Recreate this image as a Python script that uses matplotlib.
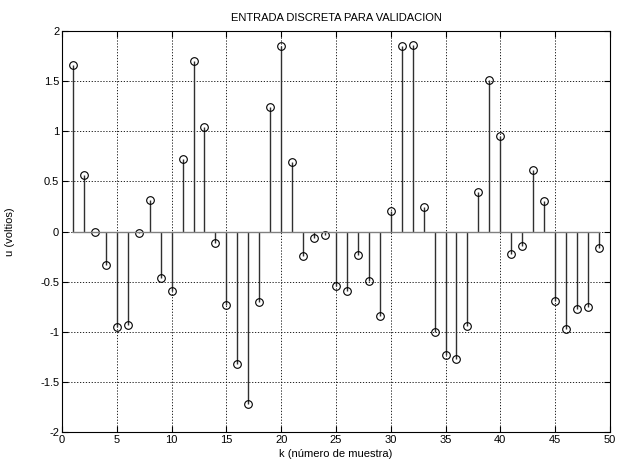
import numpy as np
import matplotlib
matplotlib.use("Agg")
import matplotlib.pyplot as plt

plt.rcParams['font.family'] = ['Liberation Sans', 'DejaVu Sans']

# muestras k y entrada u(k)
k = list(range(1, 50))
u = [1.66, 0.56, 0.00, -0.33, -0.95, -0.93, -0.01, 0.31, -0.46, -0.59,
     0.72, 1.70, 1.04, -0.11, -0.73, -1.32, -1.72, -0.70, 1.24, 1.85,
     0.69, -0.24, -0.06, -0.03, -0.54, -0.59, -0.23, -0.49, -0.84, 0.20,
     1.85, 1.86, 0.24, -1.00, -1.23, -1.27, -0.94, 0.39, 1.51, 0.95,
     -0.22, -0.14, 0.61, 0.30, -0.69, -0.97, -0.77, -0.75, -0.16]

fig = plt.figure(figsize=(6.17, 4.63), dpi=100)
ax = fig.add_axes([0.1005, 0.067, 0.888, 0.866])

markerline, stemlines, baseline = ax.stem(k, u, basefmt='-')
plt.setp(stemlines, color='#303030', linewidth=1)
plt.setp(markerline, marker='o', markersize=5.5, markerfacecolor='none',
         markeredgecolor='black', markeredgewidth=0.8)
plt.setp(baseline, color='#808080', linewidth=1)

ax.set_xlim(0, 50)
ax.set_ylim(-2, 2)
ax.set_xticks(np.arange(0, 51, 5))
ax.set_yticks(np.arange(-2, 2.01, 0.5))
ax.set_yticklabels(['-2', '-1.5', '-1', '-0.5', '0', '0.5', '1', '1.5', '2'])
ax.grid(True, linestyle=(0, (1.5, 2)), color='black', linewidth=0.6)
ax.set_axisbelow(True)
ax.tick_params(direction='in', top=True, right=True, labelsize=8, length=4, pad=2)
for s in ax.spines.values():
    s.set_linewidth(0.8)

ax.set_title('ENTRADA DISCRETA PARA VALIDACION', fontsize=8, pad=7)
ax.set_xlabel('k (número de muestra)', fontsize=8, labelpad=3)
ax.set_ylabel('u (voltios)', fontsize=8, labelpad=18)

fig.savefig('out.png', dpi=100)
